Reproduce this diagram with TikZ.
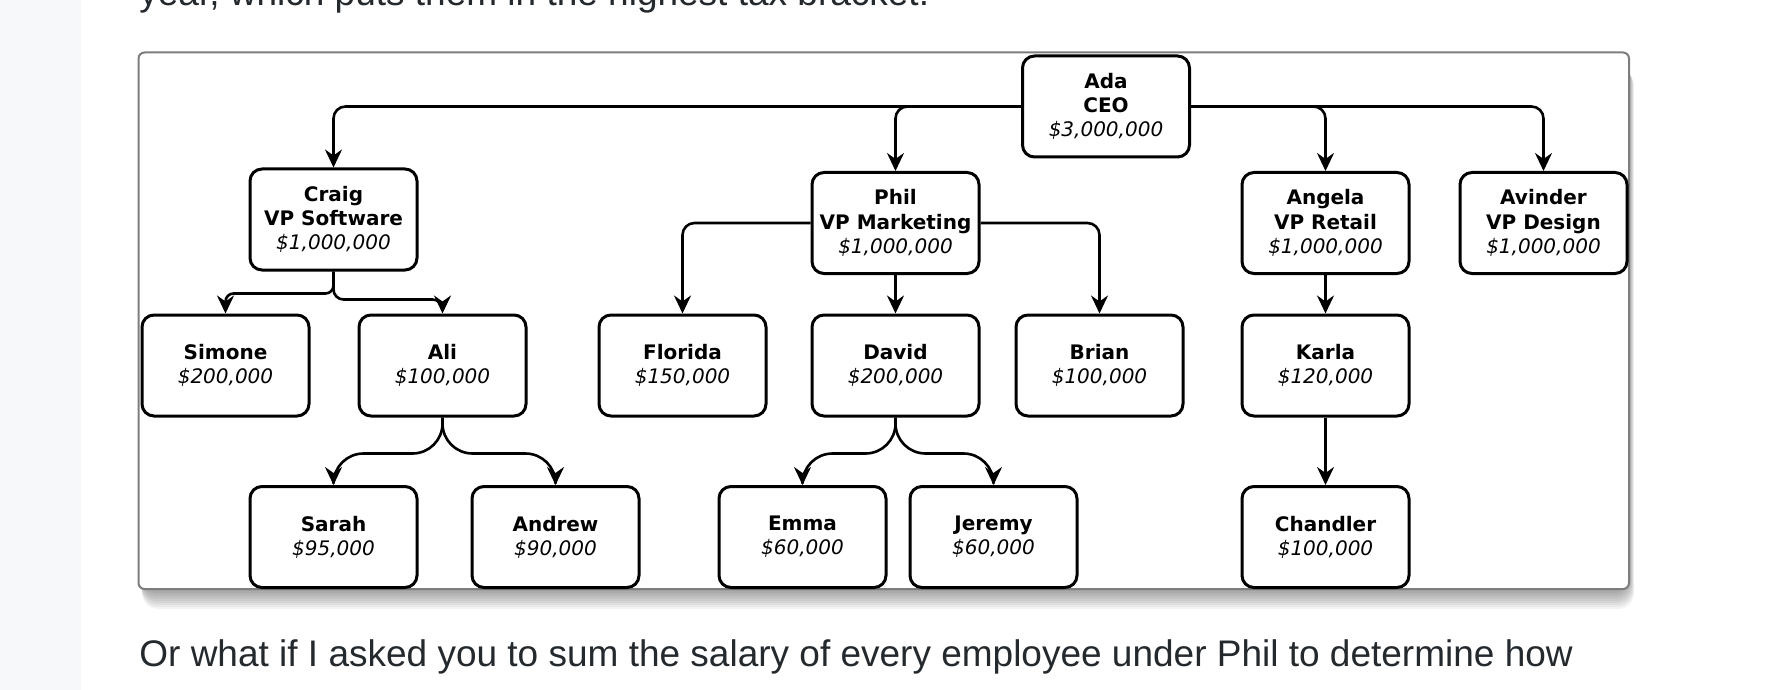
\documentclass[tikz,border=0pt]{standalone}
\usepackage{fontspec}
\setmainfont{DejaVu Sans}
\newfontfamily\pagefont{Liberation Sans}
\usetikzlibrary{arrows.meta}
\definecolor{pagetext}{HTML}{24292E}
\definecolor{sidebar}{HTML}{F6F8FA}
\definecolor{cardline}{HTML}{7D7D7D}
\newcommand{\pay}[1]{{\mdseries\itshape\$#1}}
\tikzset{
    person/.style={
        draw,
        fill=white,
        line width=1.5pt,
        rounded corners=6pt,
        minimum width=83.5pt,
        minimum height=50.5pt,
        inner sep=0pt,
        align=center,
        font=\bfseries\fontsize{10}{12.1}\selectfont
    },
    report/.style={
        -{Stealth[length=9pt,width=8.5pt,inset=3pt]},
        line width=1.3pt,
        rounded corners=6pt
    },
    curved report/.style={
        report,
        rounded corners=15pt
    },
    page text/.style={
        pagetext,
        anchor=base west,
        inner sep=0pt,
        font=\pagefont\fontsize{18.5}{22}\selectfont
    }
}

\begin{document}
\begin{tikzpicture}[x=0.5pt,y=-0.5pt]
                \useasboundingbox (0,0) rectangle (1768,690);
                \clip (0,0) rectangle (1768,690);
                \fill[sidebar] (0,0) rectangle (81,690);
                \node[page text] (lead) at (139,6) {year, which puts them in the highest tax bracket.};
                \node[page text] (follow) at (139,666) {Or what if I asked you to sum the salary of every employee under Phil to determine how};
                \foreach \d in {2,4,...,20}
                    \fill[black,opacity=0.045,rounded corners=8pt] (139+\d/6,60+\d/2) rectangle (1629+\d/4,589+\d);
                \draw[cardline,line width=1pt,fill=white,rounded corners=3pt] (138.5,52.5) rectangle (1629,589);
                \node[person] (ada) at (1106,106.5) {Ada\\CEO\\\pay{3,000,000}};
                \node[person] (craig) at (333.5,219.5) {Craig\\VP Software\\\pay{1,000,000}};
                \node[person] (phil) at (895.5,223) {Phil\\VP Marketing\\\pay{1,000,000}};
                \node[person] (angela) at (1325.5,223) {Angela\\VP Retail\\\pay{1,000,000}};
                \node[person] (avinder) at (1543.5,223) {Avinder\\VP Design\\\pay{1,000,000}};
                \node[person] (simone) at (225.5,365.5) {Simone\\\pay{200,000}};
                \node[person] (ali) at (442.5,365.5) {Ali\\\pay{100,000}};
                \node[person] (florida) at (682.5,365.5) {Florida\\\pay{150,000}};
                \node[person] (david) at (895.5,365.5) {David\\\pay{200,000}};
                \node[person] (brian) at (1099.5,365.5) {Brian\\\pay{100,000}};
                \node[person] (karla) at (1325.5,365.5) {Karla\\\pay{120,000}};
                \node[person] (sarah) at (333.5,537) {Sarah\\\pay{95,000}};
                \node[person] (andrew) at (555.5,537) {Andrew\\\pay{90,000}};
                \node[person] (emma) at (802.5,537) {Emma\\\pay{60,000}};
                \node[person] (jeremy) at (993.5,537) {Jeremy\\\pay{60,000}};
                \node[person] (chandler) at (1325.5,537) {Chandler\\\pay{100,000}};
                \draw[report] (ada.west) -| (craig.north);
                \draw[report] (ada.west) -| (phil.north);
                \draw[report] (ada.east) -| (angela.north);
                \draw[report] (ada.east) -| (avinder.north);
                \draw[report,rounded corners=4pt] (craig.south) -- ++(0,22) -- ++(-108,0) [sharp corners] -- (simone.north);
                \draw[report,rounded corners=5pt] (craig.south) -- ++(0,28) -- ++(109,0) [sharp corners] -- (ali.north);
                \draw[report] (phil.west) -| (florida.north);
                \draw[report] (phil.south) -- (david.north);
                \draw[report] (phil.east) -| (brian.north);
                \draw[report] (angela.south) -- (karla.north);
                \draw[report] (karla.south) -- (chandler.north);
                \draw[curved report] (ali.south) -- ++(0,36) -| (sarah.north);
                \draw[curved report] (ali.south) -- ++(0,36) -| (andrew.north);
                \draw[curved report] (david.south) -- ++(0,36) -| (emma.north);
                \draw[curved report] (david.south) -- ++(0,36) -| (jeremy.north);
\end{tikzpicture}
\end{document}
